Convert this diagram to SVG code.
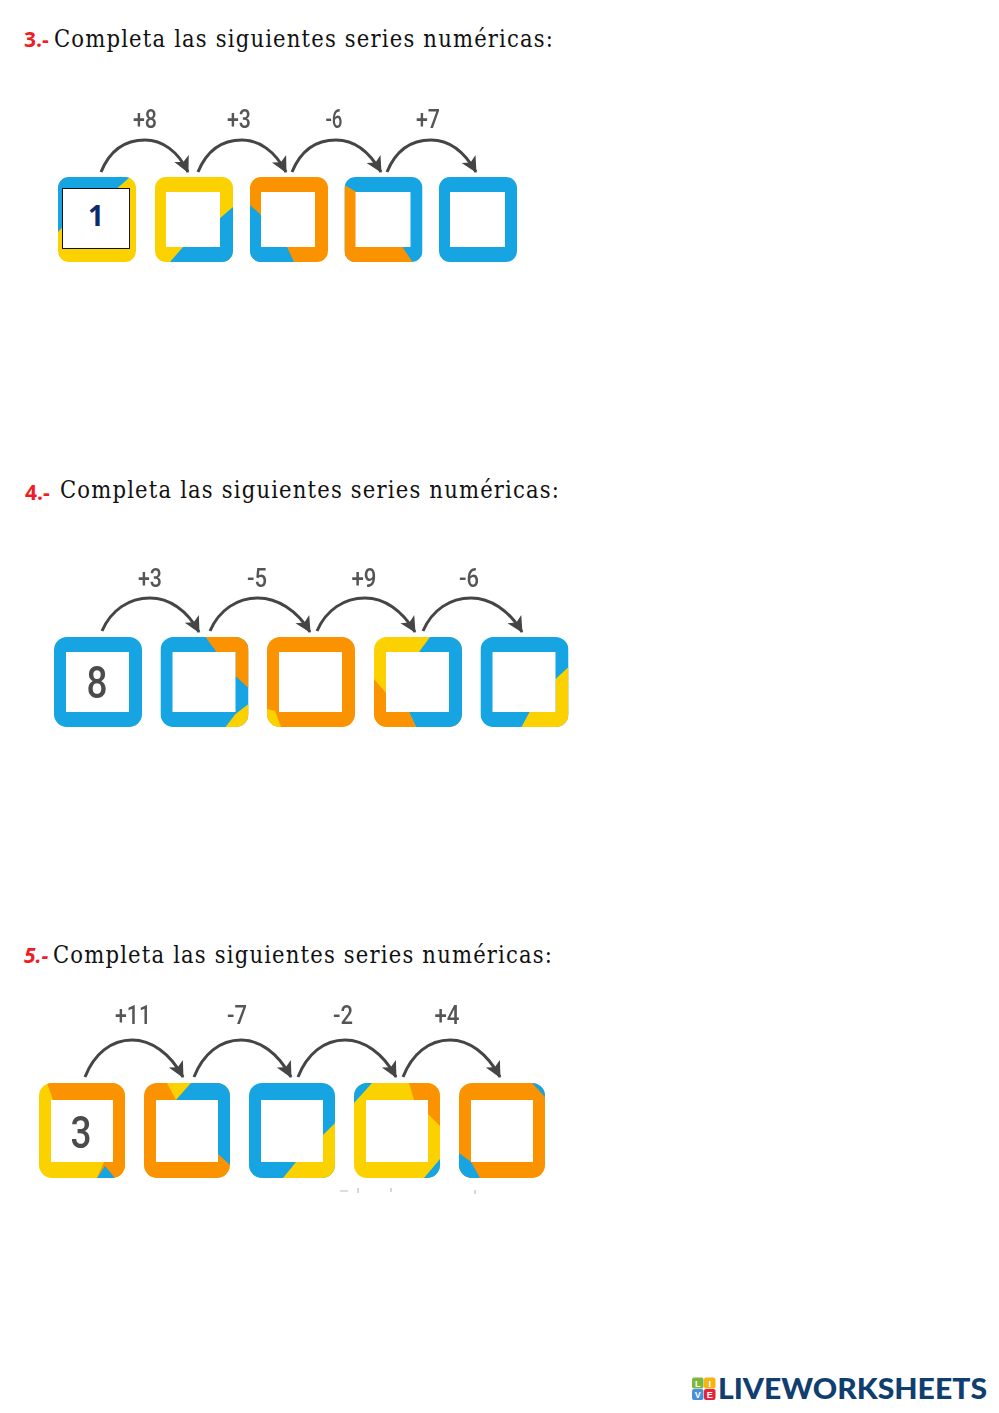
<svg xmlns="http://www.w3.org/2000/svg" width="999" height="1413" viewBox="0 0 999 1413">
<style>
.head{font-family:"DejaVu Serif","Liberation Serif",serif;font-size:23.5px;font-stretch:condensed;fill:#111}
.num{font-family:"Open Sans","Liberation Sans",sans-serif;font-size:21px;font-weight:700;fill:#ee1c25}
.lab{font-family:Roboto,"Liberation Sans",sans-serif;font-size:25px;font-weight:500;fill:#555;text-anchor:middle}
.big{font-family:Roboto,"Liberation Sans",sans-serif;font-size:45px;font-weight:500;fill:#4c4c4c;text-anchor:middle}
.arc{fill:none;stroke:#454545;stroke-width:3;marker-end:url(#ah)}
.b{fill:#12a5e2}.y{fill:#fbd200}.o{fill:#fb9300}.w{fill:#fff}
.t{font-family:"Liberation Sans",sans-serif;font-size:9px;font-weight:700;fill:#fff;text-anchor:middle}
</style>
<defs>
<clipPath id="c1"><rect width="78" height="85" rx="11"/></clipPath>
<clipPath id="c2"><rect width="88" height="90" rx="13"/></clipPath>
<clipPath id="c3"><rect width="86" height="95" rx="13"/></clipPath>
<marker id="ah" markerUnits="userSpaceOnUse" markerWidth="20" markerHeight="18" refX="15" refY="8" orient="auto"><path d="M0 0L16 8L0 16L4 8Z" fill="#454545"/></marker>
<filter id="soft" x="-5%" y="-5%" width="110%" height="110%"><feGaussianBlur stdDeviation="0.55"/></filter>
</defs>
<rect width="999" height="1413" fill="#fff"/>

<g id="heading-3"><text class="num" x="24" y="47">3.-</text><text class="head" x="54" y="47" textLength="499" lengthAdjust="spacing">Completa las siguientes series numéricas:</text></g>
<g id="heading-4"><text class="num" x="25" y="500">4.-</text><text class="head" x="60" y="498" textLength="499" lengthAdjust="spacing">Completa las siguientes series numéricas:</text></g>
<g id="heading-5"><text class="num" x="24" y="963" font-style="italic">5.-</text><text class="head" x="53" y="963" textLength="499" lengthAdjust="spacing">Completa las siguientes series numéricas:</text></g>

<g id="connectors" filter="url(#soft)">
<path class="arc" d="M101 172C110 150 126 140 145 140C162 140 178 151 188 172"/>
<path class="arc" d="M198 172C207 150 223 140 242 140C259 140 275 151 286 172"/>
<path class="arc" d="M292 172C301 150 317 140 336 140C353 140 369 151 381 172"/>
<path class="arc" d="M387 172C396 150 412 140 431 140C448 140 464 151 476 172"/>
<path class="arc" d="M102 631C111 610 129 598 150 598C169 598 187 610 199 632"/>
<path class="arc" d="M210 631C219 610 237 598 258 598C277 598 297 610 310 632"/>
<path class="arc" d="M317 631C326 610 344 598 365 598C384 598 402 610 415 632"/>
<path class="arc" d="M423 631C432 610 450 598 471 598C490 598 509 610 522 632"/>
<path class="arc" d="M85 1077C94 1054 111 1040 132 1040C151 1040 170 1053 183 1077"/>
<path class="arc" d="M194 1077C203 1054 220 1040 241 1040C260 1040 278 1053 291 1077"/>
<path class="arc" d="M298 1077C307 1054 324 1040 345 1040C364 1040 383 1053 396 1077"/>
<path class="arc" d="M403 1077C412 1054 429 1040 450 1040C469 1040 487 1053 500 1077"/>
<text class="lab" x="145" y="128" textLength="24" lengthAdjust="spacingAndGlyphs">+8</text><text class="lab" x="239" y="128" textLength="24" lengthAdjust="spacingAndGlyphs">+3</text><text class="lab" x="334" y="128" textLength="17" lengthAdjust="spacingAndGlyphs">-6</text><text class="lab" x="428" y="128" textLength="24" lengthAdjust="spacingAndGlyphs">+7</text>
<text class="lab" x="150" y="587" textLength="24" lengthAdjust="spacingAndGlyphs">+3</text><text class="lab" x="257" y="587" textLength="20" lengthAdjust="spacingAndGlyphs">-5</text><text class="lab" x="364" y="587" textLength="25" lengthAdjust="spacingAndGlyphs">+9</text><text class="lab" x="469" y="587" textLength="20" lengthAdjust="spacingAndGlyphs">-6</text>
<text class="lab" x="133" y="1024" textLength="36" lengthAdjust="spacingAndGlyphs">+11</text><text class="lab" x="237" y="1024" textLength="20" lengthAdjust="spacingAndGlyphs">-7</text><text class="lab" x="343" y="1024" textLength="20" lengthAdjust="spacingAndGlyphs">-2</text><text class="lab" x="447" y="1024" textLength="25" lengthAdjust="spacingAndGlyphs">+4</text>
</g>

<g id="row3" filter="url(#soft)">
<g id="s3-n1" transform="translate(58 177)"><g clip-path="url(#c1)"><rect class="y" width="78" height="85"/><polygon class="b" points="0,0 72,0 55,15 12,15 12,42 0,55"/></g></g>
<g id="s3-n2" transform="translate(155 177)"><g clip-path="url(#c1)"><rect class="y" width="78" height="85"/><polygon class="b" points="78,30 64,42 64,70 28,70 15,85 78,85"/></g><rect class="w" x="11" y="15" width="54" height="55"/></g>
<g id="s3-n3" transform="translate(250 177)"><g clip-path="url(#c1)"><rect class="o" width="78" height="85"/><polygon class="b" points="0,28 11,38 11,70 37,70 44,85 0,85"/></g><rect class="w" x="11" y="15" width="54" height="55"/></g>
<g id="s3-n4" transform="translate(344.500 177)"><g clip-path="url(#c1)"><rect class="b" width="78" height="85"/><polygon class="o" points="0,8 12,15 12,70 58,70 68,85 0,85"/></g><rect class="w" x="11" y="15" width="55" height="55"/></g>
<g id="s3-n5" transform="translate(439 177)"><rect class="b" width="78" height="85" rx="11"/><rect class="w" x="11" y="15" width="55" height="55"/></g>
</g>
<g id="s3-start"><rect x="62.500" y="188.500" width="67" height="60" fill="#fff" stroke="#111" stroke-width="1"/><text x="96" y="226" text-anchor="middle" font-family="'Open Sans','Liberation Sans',sans-serif" font-weight="700" font-size="28" fill="#0f2a6b">1</text></g>

<g id="row4" filter="url(#soft)">
<g id="s4-n1" transform="translate(54 637)"><rect class="b" width="88" height="90" rx="13"/><rect class="w" x="12" y="15" width="63" height="60"/><text class="big" x="43" y="61" textLength="21" lengthAdjust="spacingAndGlyphs">8</text></g>
<g id="s4-n2" transform="translate(160.500 637)"><g clip-path="url(#c2)"><rect class="b" width="88" height="90"/><polygon class="o" points="45,0 56,15 75,15 75,39 88,51 88,0"/><polygon class="y" points="88,67 75,77 65,90 88,90"/></g><rect class="w" x="12" y="15" width="63" height="60"/></g>
<g id="s4-n3" transform="translate(267 637)"><g clip-path="url(#c2)"><rect class="o" width="88" height="90"/><polygon class="y" points="0,72 8,74 14,90 0,90"/></g><rect class="w" x="12" y="15" width="63" height="60"/></g>
<g id="s4-n4" transform="translate(374 637)"><g clip-path="url(#c2)"><rect class="y" width="88" height="90"/><polygon class="b" points="56,0 45,15 75,15 75,75 35,75 42,90 88,90 88,0"/><polygon class="o" points="0,42 12,56 12,75 35,75 42,90 0,90"/></g><rect class="w" x="12" y="15" width="63" height="60"/></g>
<g id="s4-n5" transform="translate(480.500 637)"><g clip-path="url(#c2)"><rect class="b" width="88" height="90"/><polygon class="y" points="88,30 75,42 75,75 49,75 41,90 88,90"/></g><rect class="w" x="12" y="15" width="63" height="60"/></g>
</g>

<g id="row5" filter="url(#soft)">
<g id="s5-n1" transform="translate(39 1083)"><g clip-path="url(#c3)"><rect class="y" width="86" height="95"/><polygon class="o" points="8,0 14,17 74,17 74,79 65,79 58,95 86,95 86,0"/><polygon class="b" points="66,83 58,95 76,95"/></g><rect class="w" x="12" y="17" width="62" height="62"/><text class="big" x="42" y="65" textLength="21" lengthAdjust="spacingAndGlyphs">3</text></g>
<g id="s5-n2" transform="translate(144 1083)"><g clip-path="url(#c3)"><rect class="o" width="86" height="95"/><polygon class="y" points="23,0 32,17 47,0"/><polygon class="b" points="47,0 32,17 74,17 74,71 86,82 86,0"/></g><rect class="w" x="12" y="17" width="62" height="62"/></g>
<g id="s5-n3" transform="translate(249 1083)"><g clip-path="url(#c3)"><rect class="b" width="86" height="95"/><polygon class="y" points="86,40 74,52 74,79 47,79 34,95 86,95"/></g><rect class="w" x="12" y="17" width="62" height="62"/></g>
<g id="s5-n4" transform="translate(354 1083)"><g clip-path="url(#c3)"><rect class="y" width="86" height="95"/><polygon class="b" points="0,0 18,0 0,20"/><polygon class="o" points="55,0 60,17 74,17 74,31 86,43 86,0"/><polygon class="b" points="86,76 70,95 86,95"/></g><rect class="w" x="12" y="17" width="62" height="62"/></g>
<g id="s5-n5" transform="translate(459 1083)"><g clip-path="url(#c3)"><rect class="o" width="86" height="95"/><polygon class="b" points="73,0 86,0 86,14"/><polygon class="b" points="0,70 12,79 21,95 0,95"/></g><rect class="w" x="12" y="17" width="62" height="62"/></g>
</g>
<path id="specks" d="M340 1191h8M358 1188v5M391 1188v4M475 1190v4" stroke="#bbb" stroke-width="1.200" fill="none"/>

<g id="logo">
<rect x="692" y="1377.500" width="11.500" height="11" rx="2" fill="#7cb83e"/><rect x="704" y="1377.500" width="11.500" height="11" rx="2" fill="#f5b316"/>
<rect x="692" y="1389" width="11.500" height="11" rx="2" fill="#4a90d9"/><rect x="704" y="1389" width="11.500" height="11" rx="2" fill="#e5243b"/>
<text class="t" x="697.700" y="1386.500">L</text><text class="t" x="709.700" y="1386.500">I</text><text class="t" x="697.700" y="1398">V</text><text class="t" x="709.700" y="1398">E</text>
<text x="718" y="1399" font-family="Lato,'Liberation Sans',sans-serif" font-weight="900" font-size="29" fill="#103e6f" textLength="269" lengthAdjust="spacingAndGlyphs">LIVEWORKSHEETS</text>
</g>
</svg>
